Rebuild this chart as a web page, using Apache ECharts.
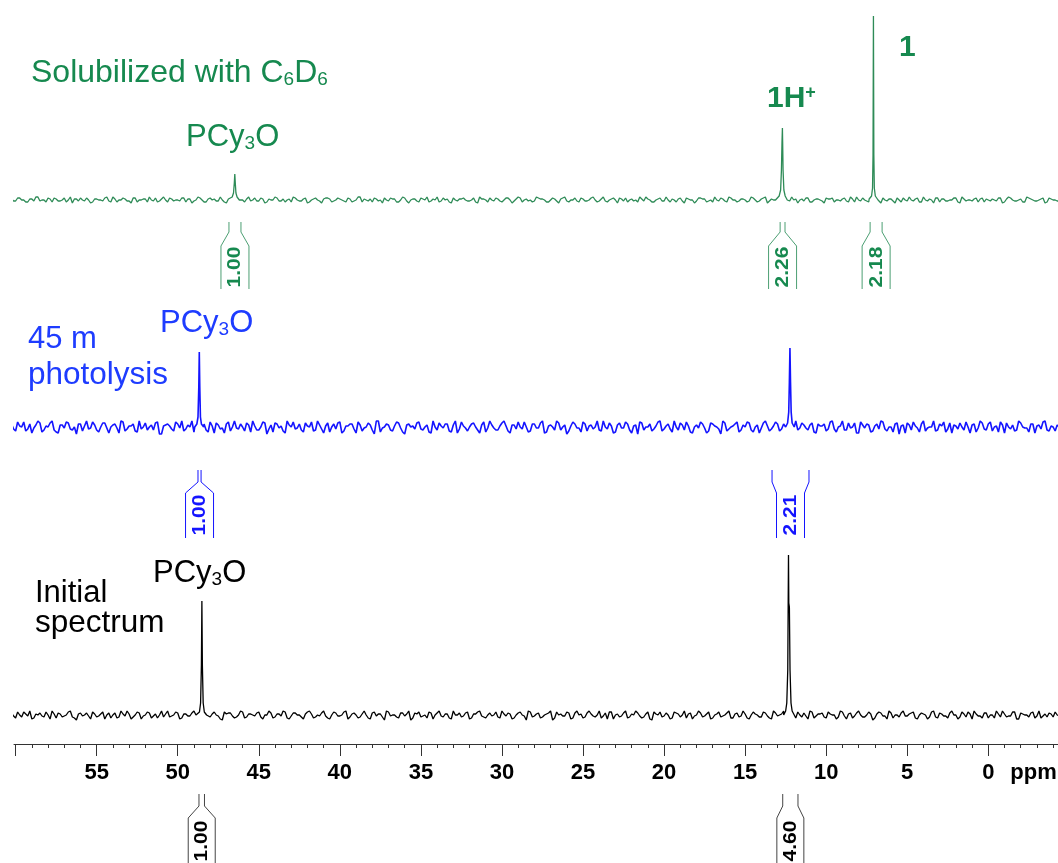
<!DOCTYPE html>
<html>
<head>
<meta charset="utf-8">
<script src="https://cdn.jsdelivr.net/npm/echarts@6/dist/echarts.min.js"></script>
<style>
  html, body { margin: 0; padding: 0; background: #ffffff; }
  #chart { width: 1058px; height: 863px; }
</style>
</head>
<body>
<div id="chart"></div>
<script>
// ---- ppm axis ----
const majorTicks = [0, 5, 10, 15, 20, 25, 30, 35, 40, 45, 50, 55, 60];
const tickLabels = [0, 5, 10, 15, 20, 25, 30, 35, 40, 45, 50, 55];
const minorTicks = [-4, -3, -2, -1, 0, 1, 2, 3, 4, 5, 6, 7, 8, 9, 10, 11, 12, 13, 14, 15, 16, 17, 18, 19, 20,
  21, 22, 23, 24, 25, 26, 27, 28, 29, 30, 31, 32, 33, 34, 35, 36, 37, 38, 39, 40, 41, 42, 43, 44, 45, 46, 47,
  48, 49, 50, 51, 52, 53, 54, 55, 56, 57, 58, 59, 60];

// ---- baseline samples: "On" arrays sit on the 0.25 ppm grid starting at 60.25 ppm,
//      "Mid" arrays sit halfway between them (60.125, 59.875, ...) ----
const noiseStart = 60.25;
const noiseStep = 0.25;

const greenNoiseOn = [1,-1,2,0,-2,1,3,-1,0,2,-2,1,-1,2,0,-3,1,2,-1,0,
  -2,1,0,2,-1,3,-2,0,1,-1,2,-2,0,1,3,-1,-2,1,0,2,
  -1,0,2,-2,1,-1,3,0,-2,2,1,-1,0,-3,2,1,-2,0,1,-1,
  2,-1,1,-2,0,3,-1,1,0,-2,2,-1,1,-3,0,2,-1,1,2,-2,
  0,1,-1,2,-2,0,3,1,-1,-2,1,0,2,-1,1,-2,0,2,-3,1,
  -1,2,0,-2,1,3,-1,0,-2,2,-1,1,0,-1,2,-3,1,0,2,-1,
  1,-2,2,0,-1,3,-2,1,0,-1,2,1,-2,0,1,-3,2,-1,0,2,
  -2,1,-1,2,0,-1,3,-2,1,0,2,-1,-2,1,0,3,-1,1,-2,0,
  2,-1,0,1,-2,2,-3,1,0,-1,2,1,-1,-2,0,2,-1,3,0,-2,
  1,0,-1,2,-2,1,3,-1,0,-2,1,2,-1,0,-3,1,2,-2,0,1,
  -1,2,1,-2,0,1,-1,3,-2,0,2,-1,1,0,-2,2,-1,1,-3,0,
  2,-1,0,1,-2,3,-1,0,2,-2,1,-1,0,2,-3,1,0,-1,2,1,
  -2,0,1,-1,2,-2,3,0,-1,1,-2,2,0,-1,1,-3,2,0,-1];
const greenNoiseMid = [-1,2,0,-2,1,-1,3,0,-2,1,2,-1,0,-2,3,1,-1,0,2,-3,
  1,0,-1,3,-2,1,0,2,-1,-3,2,0,1,-2,0,2,-1,3,-2,1,
  0,-1,2,1,-3,0,2,-2,1,0,-1,3,-2,1,2,-1,0,-2,3,0,
  -1,2,-3,1,0,2,-1,-2,1,3,0,-1,2,-2,1,0,-3,2,1,-1,
  2,0,-2,1,-1,3,-2,0,1,2,-1,-3,0,2,1,-2,3,-1,0,1,
  -2,1,3,-1,0,-2,2,1,-3,0,1,2,-1,0,-2,3,1,-2,0,2,
  -1,0,2,-3,1,2,0,-1,-2,3,1,0,-2,2,-1,1,3,-2,0,-1,
  2,-1,0,3,-2,1,-1,0,2,-3,1,2,0,-1,-2,1,3,0,-2,1,
  -1,3,-2,0,1,-1,2,0,-3,2,1,-2,0,3,-1,1,-2,2,0,-1,
  1,-2,3,0,-1,2,-3,1,0,2,-1,-2,3,1,0,-1,2,-2,1,0,
  -3,1,2,0,-1,2,-2,1,3,-1,0,-2,1,2,-3,0,1,-1,2,-2,
  0,3,-1,2,-2,0,1,-3,2,1,-1,0,2,-2,3,-1,0,1,-2,2,
  1,-1,0,2,-3,1,2,-1,0,-2,3,1,-1,0,2,-2,1,0,-1];

const blueNoiseOn = [3,-4,1,5,-2,-6,2,4,-3,0,6,-5,2,-1,4,-3,-7,3,1,-2,
  5,-3,0,4,-6,2,-1,6,-4,1,3,-5,-2,4,0,-3,5,-7,2,1,
  -4,3,6,-2,0,-5,4,1,-3,5,-6,2,-1,3,-4,6,-2,0,4,-5,
  1,-3,5,-7,2,4,-1,-4,6,0,-2,3,-5,1,5,-3,2,-6,4,0,
  -2,5,-4,1,3,-6,2,-1,4,-3,6,-5,0,2,-4,5,-1,-7,3,1,
  4,-2,0,-5,6,-3,1,3,-4,2,-6,5,-1,0,4,-3,2,-5,6,-1,
  -3,4,1,-6,2,5,-2,0,-4,3,-1,6,-5,2,-3,4,0,-7,1,3,
  -1,5,-4,2,0,-3,6,-2,1,-5,4,-1,3,-6,2,5,-3,0,-4,1,
  6,-2,3,-5,0,4,-3,1,-6,2,5,-1,-4,3,0,-7,4,-2,1,5,
  -3,0,4,-5,2,-1,6,-4,1,3,-2,-6,5,0,-3,4,-1,2,-5,3,
  1,-4,5,-2,0,6,-3,-1,4,-6,2,3,-5,1,-2,5,-4,0,3,-7,
  2,4,-3,1,-5,6,-1,0,-4,3,5,-2,-6,1,4,-3,0,2,-5,6,
  -2,3,-4,1,5,-6,0,2,-3,4,-1,-5,3,1,-2,6,-4,0,2];
const blueNoiseMid = [-2,5,0,-4,3,-1,6,-5,1,4,-3,-6,2,5,-2,0,3,-4,6,-1,
  2,-5,4,-1,0,3,-6,5,-2,1,-4,6,0,-3,2,4,-7,1,3,-2,
  5,-1,-4,2,6,-3,0,3,-5,1,4,-2,-6,5,0,-1,3,-4,2,6,
  -3,0,4,-2,-5,3,1,-6,2,5,-1,-3,4,0,-4,6,-2,1,-5,3,
  4,-6,1,3,-2,5,-4,0,2,-7,6,-1,3,-3,1,4,-5,2,0,-2,
  5,-3,2,-6,0,4,-1,3,-5,6,-2,1,-4,3,0,-6,5,-1,2,-3,
  1,6,-4,2,-2,0,5,-5,3,-1,4,-6,1,0,6,-3,2,-4,5,-1,
  -5,3,1,-2,6,-4,0,4,-6,2,-1,5,-3,1,-7,4,0,3,-2,5,
  -4,1,-2,6,-3,2,5,-5,0,-1,3,-6,4,1,-2,6,-4,0,3,-5,
  2,5,-3,0,-6,4,1,-2,5,-4,3,0,-5,6,-1,2,-3,4,-6,1,
  3,-2,6,-5,1,-3,4,0,-6,5,-1,2,-4,3,6,-2,0,-5,4,1,
  -6,2,5,-1,3,-4,0,6,-3,1,-5,4,2,-2,0,5,-6,3,-1,4,
  -3,5,0,-5,2,4,-2,-4,6,0,-1,3,-6,2,5,-3,1,-4,0];

const blackNoiseOn = [2,-3,0,3,-1,-4,1,2,-2,0,4,-3,1,-1,3,-2,-5,2,0,-1,
  3,-2,1,-4,2,0,-3,4,-1,1,-2,3,-4,0,2,-1,-3,4,1,-2,
  0,2,-3,1,-1,4,-4,2,0,-2,3,-1,-5,1,2,-3,0,3,-2,1,
  -1,3,-4,0,2,-2,1,4,-3,-1,2,0,-4,3,1,-2,-1,4,-3,0,
  2,-1,3,-4,1,0,-2,4,-3,2,-1,1,-5,3,0,-2,2,-1,4,-3,
  1,-2,0,3,-4,2,-1,1,-3,4,0,-2,2,-4,1,3,-1,-3,2,0,
  -2,4,-1,1,-3,2,0,-5,3,-1,2,-2,1,4,-3,0,-1,3,-4,2,
  0,-3,2,1,-2,4,-1,-4,3,0,-2,2,-3,1,4,-1,-2,3,-5,1,
  3,-1,0,-3,2,-2,4,1,-4,0,2,-1,3,-3,1,-2,0,4,-3,2,
  -1,1,-4,3,0,-2,2,-3,4,-1,1,-5,2,0,3,-2,-1,4,-3,1,
  2,-3,1,0,-2,3,-4,2,-1,4,-2,0,1,-3,3,-1,-4,2,0,-2,
  4,-1,2,-3,0,1,-4,3,-2,2,-1,-3,4,0,-2,1,3,-4,1,-1,
  2,-3,0,4,-2,1,-1,3,-4,2,0,-2,3,-1,-3,1,2,-2,0];
const blackNoiseMid = [-1,3,-2,1,4,-3,0,-1,3,-4,1,2,-2,0,4,-3,1,-1,2,-4,
  1,-1,3,0,-3,2,-2,1,4,-4,0,2,-1,3,-3,1,0,-2,4,-1,
  3,-4,1,-1,2,0,-3,4,-2,1,0,-4,3,2,-1,-2,4,-3,1,0,
  2,-2,0,4,-3,1,-1,3,-4,2,0,-2,1,4,-3,0,2,-1,-4,3,
  -1,0,4,-2,2,-3,1,0,-4,3,1,-2,4,-1,0,-3,2,1,-5,2,
  3,-1,-3,2,0,4,-2,1,-4,0,2,-1,3,-3,1,4,-2,0,-1,3,
  -3,1,2,-4,0,3,-1,4,-2,1,-3,0,2,-5,3,1,-1,2,-3,4,
  1,-2,4,-1,0,-3,2,3,-4,1,-1,4,-2,0,2,-3,1,-4,3,0,
  -2,2,-4,3,1,0,-3,2,-1,4,-2,1,-4,0,3,-1,2,-3,1,-2,
  4,-3,0,1,-2,3,-1,-4,2,0,4,-2,1,-3,0,2,-4,3,-1,1,
  -2,3,0,-4,4,-1,1,-3,2,0,-2,3,-5,1,2,-1,4,-3,0,2,
  -1,1,3,-4,2,0,-2,4,-3,1,-1,2,0,-4,3,-2,1,4,-1,-3,
  2,0,-3,1,4,-2,-1,3,-4,1,0,2,-3,4,-1,-2,1,3,-1];

// ---- resonances: [ppm, intensity] ----
const greenPeaks = [
  [[46.8, 1], [46.64, 3], [46.56, 7], [46.51, 17], [46.48, 26], [46.45, 17], [46.41, 7], [46.34, 3], [46.2, 0]],
  [[13.05, 1], [12.9, 4], [12.81, 10], [12.76, 30], [12.725, 58], [12.7, 72], [12.685, 58], [12.66, 30], [12.61, 10], [12.53, 4], [12.4, 0]],
  [[7.35, 1], [7.2, 4], [7.14, 12], [7.11, 45], [7.095, 130], [7.085, 184], [7.075, 130], [7.06, 45], [7.03, 12], [6.97, 4], [6.8, 0]]
];
const bluePeaks = [
  [[48.95, 0], [48.82, 3], [48.75, 10], [48.7, 40], [48.67, 75], [48.64, 40], [48.6, 10], [48.54, 3], [48.4, 0]],
  [[12.5, 0], [12.38, 4], [12.31, 15], [12.27, 45], [12.235, 79], [12.2, 45], [12.16, 15], [12.1, 4], [11.97, 0]]
];
const blackPeaks = [
  [[48.8, 0], [48.66, 3], [48.59, 12], [48.54, 50], [48.51, 114], [48.48, 50], [48.43, 12], [48.36, 3], [48.22, 0]],
  [[12.62, 0], [12.5, 4], [12.43, 12], [12.37, 45], [12.325, 160], [12.305, 112], [12.27, 108], [12.23, 45], [12.17, 12], [12.1, 4], [11.97, 0]]
];

// ---- integral regions: [from ppm, to ppm] and printed values ----
const greenIntegrals = [[46.84, 46.10], [12.84, 12.54], [7.29, 6.55]];
const greenIntegralValues = ['1.00', '2.26', '2.18'];
const blueIntegrals = [[48.75, 48.56], [13.34, 11.06]];
const blueIntegralValues = ['1.00', '2.21'];
const blackIntegrals = [[48.69, 48.35], [12.68, 11.74]];
const blackIntegralValues = ['1.00', '4.60'];

// ---- drawing ----
const FONT = '"Liberation Sans", Arial, Helvetica, sans-serif';
const GREEN = '#2e8b57', GREEN_TEXT = '#16894f', GREEN_BRACKET = '#4c9f73';
const BLUE = '#1414ff', BLUE_TEXT = '#1e3cff';
const BLACK = '#000000';
const X_MIN = -4.3, X_MAX = 60.1;

function buildTrace(noiseOn, noiseMid, peaks) {
  const spans = peaks.map(p => {
    const xs = p.map(d => d[0]);
    return [Math.min(...xs), Math.max(...xs)];
  });
  const on = noiseOn.map((v, i) => [+(noiseStart - i * noiseStep).toFixed(3), v]);
  const mid = noiseMid.map((v, i) => [+(noiseStart - noiseStep / 2 - i * noiseStep).toFixed(3), v]);
  const base = on.concat(mid).filter(pt => !spans.some(s => pt[0] >= s[0] && pt[0] <= s[1]));
  const all = base.concat(...peaks);
  all.sort((a, b) => b[0] - a[0]);
  return all;
}

function bracketSeries(idx, ranges, values, lineColor, textColor, lay) {
  return {
    type: 'custom',
    xAxisIndex: idx,
    yAxisIndex: idx,
    clip: false,
    silent: true,
    animation: false,
    data: ranges.map((r, i) => [r[0], r[1], i]),
    renderItem(params, api) {
      const a = api.coord([api.value(0), 0]);
      const b = api.coord([api.value(1), 0]);
      const baseY = a[1];
      const xl = Math.min(a[0], b[0]);
      const xr = Math.max(a[0], b[0]);
      const cx = (xl + xr) / 2;
      const hw = lay.box / 2;
      const y0 = baseY + lay.top, y1 = baseY + lay.neck, y2 = baseY + lay.shoulder, y3 = baseY + lay.bottom;
      const st = { stroke: lineColor, fill: null, lineWidth: 1 };
      return {
        type: 'group',
        children: [
          { type: 'polyline', shape: { points: [[xl, y0], [xl, y1], [cx - hw, y2], [cx - hw, y3]] }, style: st },
          { type: 'polyline', shape: { points: [[xr, y0], [xr, y1], [cx + hw, y2], [cx + hw, y3]] }, style: st },
          {
            type: 'text', x: cx + 0.5, y: baseY + lay.textMid, rotation: Math.PI / 2, scaleX: 1, scaleY: 0.86,
            style: {
              text: values[api.value(2)], fill: textColor, fontSize: 21, fontWeight: 'bold', fontFamily: FONT,
              align: 'center', verticalAlign: 'middle'
            }
          }
        ]
      };
    }
  };
}

function traceSeries(idx, data, color, width) {
  return {
    type: 'line', xAxisIndex: idx, yAxisIndex: idx, data: data,
    showSymbol: false, symbol: 'none', clip: false, animation: false, silent: true,
    sampling: null, lineStyle: { color: color, width: width }
  };
}

const hiddenX = idx => ({
  gridIndex: idx, type: 'value', min: X_MIN, max: X_MAX, inverse: true, show: false
});
const hiddenY = (idx, min, max) => ({
  gridIndex: idx, type: 'value', min: min, max: max, show: false
});

const chart = echarts.init(document.getElementById('chart'), null, { renderer: 'canvas' });

const LABEL_MARGIN = 18;
const option = {
  backgroundColor: '#ffffff',
  animation: false,
  grid: [
    { left: 14, right: 0, top: 0, height: 230, outerBoundsMode: 'none' },
    { left: 14, right: 0, top: 300, height: 157, outerBoundsMode: 'none' },
    { left: 14, right: 0, top: 544, height: 200, outerBoundsMode: 'none' }
  ],
  xAxis: [
    hiddenX(0),
    hiddenX(1),
    {
      gridIndex: 2, type: 'value', min: X_MIN, max: X_MAX, inverse: true, position: 'bottom',
      axisLine: { show: true, onZero: false, lineStyle: { color: '#333333', width: 1 } },
      axisTick: { show: true, customValues: majorTicks, length: 12, lineStyle: { color: '#333333', width: 1 } },
      axisLabel: {
        show: true, customValues: tickLabels, margin: LABEL_MARGIN, color: '#000000',
        fontSize: 22, fontWeight: 'bold', fontFamily: FONT
      },
      splitLine: { show: false }
    },
    {
      gridIndex: 2, type: 'value', min: X_MIN, max: X_MAX, inverse: true, position: 'bottom', offset: 0,
      axisLine: { show: false, onZero: false },
      axisTick: { show: true, customValues: minorTicks, length: 4, lineStyle: { color: '#333333', width: 1 } },
      axisLabel: { show: false },
      splitLine: { show: false }
    }
  ],
  yAxis: [hiddenY(0, -30, 200), hiddenY(1, -30, 127), hiddenY(2, -29, 171)],
  series: [
    traceSeries(0, buildTrace(greenNoiseOn, greenNoiseMid, greenPeaks), GREEN, 1.3),
    traceSeries(1, buildTrace(blueNoiseOn, blueNoiseMid, bluePeaks), BLUE, 1.6),
    traceSeries(2, buildTrace(blackNoiseOn, blackNoiseMid, blackPeaks), BLACK, 1.3),
    bracketSeries(0, greenIntegrals, greenIntegralValues, GREEN_BRACKET, GREEN_TEXT,
      { top: 22, neck: 32, shoulder: 46, bottom: 89, textMid: 67, box: 28 }),
    bracketSeries(1, blueIntegrals, blueIntegralValues, BLUE, BLUE,
      { top: 43, neck: 55, shoulder: 66, bottom: 111, textMid: 88, box: 28 }),
    bracketSeries(2, blackIntegrals, blackIntegralValues, '#444444', BLACK,
      { top: 79, neck: 91, shoulder: 103, bottom: 150, textMid: 126, box: 27 })
  ]
};
chart.setOption(option);

// ---- annotations ----
function label(text, x, baseline, color, size, weight, rich) {
  return {
    type: 'text', x: x, y: baseline - 0.31 * size, silent: true,
    style: {
      text: text, fill: color, fontSize: size, fontWeight: weight || 'normal', fontFamily: FONT,
      align: 'left', verticalAlign: 'middle', rich: rich || undefined
    }
  };
}
const subRich = color => ({
  s: { fontSize: 19, fill: color, fontFamily: FONT, verticalAlign: 'bottom' }
});
const supRich = color => ({
  p: { fontSize: 18, fill: color, fontWeight: 'bold', fontFamily: FONT, verticalAlign: 'top' }
});

const axisY = chart.convertToPixel({ yAxisIndex: 2 }, -29);
const zeroX = chart.convertToPixel({ xAxisIndex: 2 }, 0);

chart.setOption({
  graphic: [
    label('Solubilized with C{s|6}D{s|6}', 31, 83, GREEN_TEXT, 32, 'normal', subRich(GREEN_TEXT)),
    label('PCy{s|3}O', 186, 147, GREEN_TEXT, 31, 'normal', subRich(GREEN_TEXT)),
    label('1H{p|+}', 767, 108, GREEN_TEXT, 30, 'bold', supRich(GREEN_TEXT)),
    label('1', 899, 57, GREEN_TEXT, 30, 'bold'),
    label('PCy{s|3}O', 160, 333, BLUE_TEXT, 31, 'normal', subRich(BLUE_TEXT)),
    label('45 m', 28, 349, BLUE_TEXT, 31, 'normal'),
    label('photolysis', 28, 385, BLUE_TEXT, 31.5, 'normal'),
    label('PCy{s|3}O', 153, 583, BLACK, 31, 'normal', subRich(BLACK)),
    label('Initial', 35, 603, BLACK, 31, 'normal'),
    label('spectrum', 35, 633, BLACK, 31.5, 'normal'),
    {
      type: 'text', x: zeroX + 22, y: axisY + LABEL_MARGIN, silent: true,
      style: {
        text: 'ppm', fill: '#000000', fontSize: 22, fontWeight: 'bold', fontFamily: FONT,
        align: 'left', verticalAlign: 'top'
      }
    }
  ]
});
</script>
</body>
</html>
